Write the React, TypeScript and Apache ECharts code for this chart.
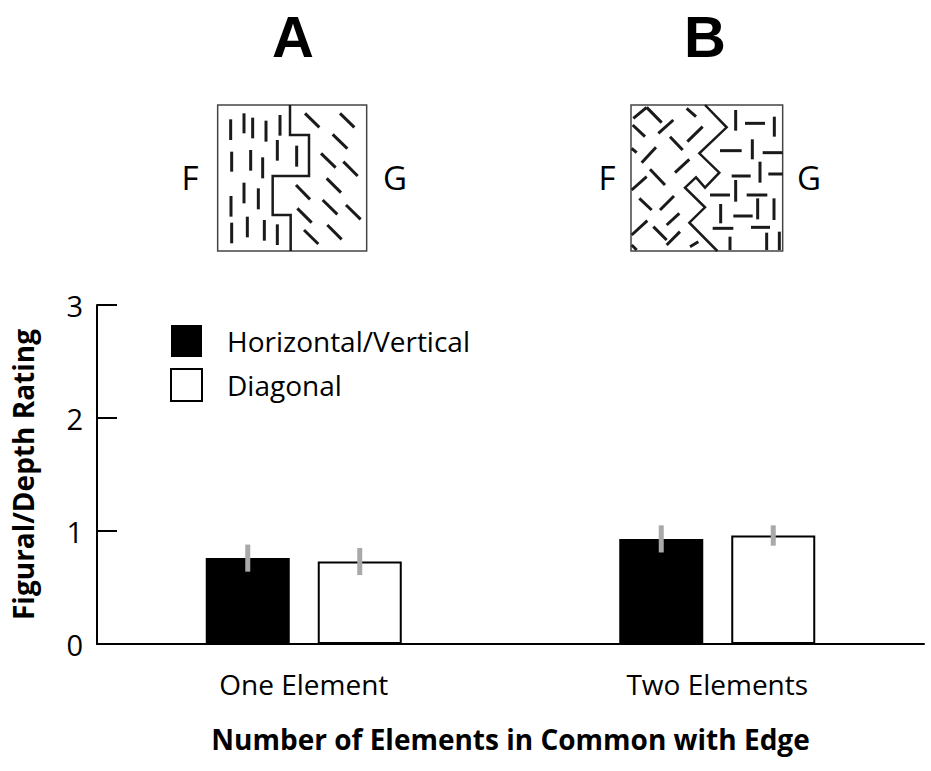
import React, { useEffect, useRef } from "react";
import * as echarts from "echarts";

// ---------- data ----------
const categories = ["One Element", "Two Elements"];
const seriesNames = ["Horizontal/Vertical", "Diagonal"];
const hvValues = [0.76, 0.93];
const hvErrors = [0.12, 0.12];
const diagValues = [0.73, 0.96];
const diagErrors = [0.12, 0.09];
const yMin = 0;
const yMax = 3;
const yInterval = 1;

// ---------- styling constants ----------
const FONT = "Open Sans";
const BAR_W = 84;
const BAR_GAP_PX = 28;

// ---------- decorative stimulus panels (zoom-unit coords, 1/3 px) ----------
type Seg = [number, number, number, number];
const panelA = {
  ox: 160,
  oy: 90,
  box: [173, 45, 620, 483],
  edge: [[390, 45], [390, 135], [447, 135], [447, 258], [338, 258], [338, 375], [392, 375], [392, 483]],
  segs: [
    [212, 88, 212, 150], [252, 70, 252, 130], [278, 83, 278, 145], [318, 92, 318, 155], [360, 75, 360, 137],
    [215, 185, 215, 245], [272, 180, 272, 242], [308, 202, 308, 265], [352, 150, 352, 212], [410, 167, 410, 230],
    [213, 318, 213, 380], [252, 278, 252, 340], [295, 295, 295, 358],
    [215, 398, 215, 460], [262, 380, 262, 442], [313, 390, 313, 452], [352, 403, 352, 465],
    [435, 70, 478, 112], [540, 70, 583, 112], [518, 133, 562, 176], [483, 190, 527, 233], [550, 215, 593, 258],
    [500, 265, 543, 308], [408, 285, 450, 328], [488, 330, 532, 373], [558, 345, 602, 388], [412, 355, 455, 398],
    [432, 420, 475, 462], [502, 405, 545, 448],
  ] as Seg[],
  F: [190, 177],
  G: [395, 177],
};
const panelB = {
  ox: 590,
  oy: 90,
  box: [123, 45, 578, 483],
  edge: [[345, 45], [410, 112], [328, 190], [388, 248], [345, 293], [318, 262], [285, 293], [345, 352], [298, 398], [382, 483]],
  segs: [
    [130, 85, 170, 52], [170, 52, 215, 98], [290, 55, 318, 80], [205, 130, 250, 90], [128, 105, 165, 140],
    [240, 140, 278, 180], [292, 155, 338, 110], [125, 175, 140, 188], [155, 218, 198, 172], [255, 248, 298, 208],
    [180, 238, 225, 285], [125, 300, 170, 260], [148, 325, 185, 360], [210, 360, 252, 318], [230, 405, 268, 370],
    [125, 435, 172, 392], [190, 410, 230, 450], [230, 465, 270, 425], [125, 465, 140, 480], [300, 470, 325, 455],
    [437, 60, 437, 122], [465, 100, 525, 100], [553, 80, 553, 140], [390, 182, 455, 182], [487, 148, 487, 208],
    [518, 188, 578, 188], [510, 215, 510, 278], [425, 258, 482, 258], [535, 252, 578, 252], [437, 270, 437, 335],
    [360, 315, 420, 315], [470, 315, 532, 315], [503, 325, 503, 388], [552, 325, 552, 390], [392, 342, 392, 400],
    [430, 378, 488, 378], [368, 415, 430, 415], [483, 412, 540, 412], [420, 440, 420, 480], [530, 428, 530, 480],
    [568, 425, 568, 480],
  ] as Seg[],
  F: [607, 177],
  G: [809, 177],
};

function panelGraphics(p: typeof panelA): any[] {
  const X = (z: number) => p.ox + z / 3;
  const Y = (z: number) => p.oy + z / 3;
  const out: any[] = [];
  out.push({
    type: "rect",
    shape: { x: X(p.box[0]), y: Y(p.box[1]), width: (p.box[2] - p.box[0]) / 3, height: (p.box[3] - p.box[1]) / 3 },
    style: { fill: "#fff", stroke: "#444", lineWidth: 1.5 },
    z: 10,
  });
  p.segs.forEach((s) => {
    out.push({
      type: "line",
      shape: { x1: X(s[0]), y1: Y(s[1]), x2: X(s[2]), y2: Y(s[3]) },
      style: { stroke: "#1a1a1a", lineWidth: 3, lineCap: "butt" },
      z: 11,
    });
  });
  out.push({
    type: "polyline",
    shape: { points: p.edge.map((pt) => [X(pt[0]), Y(pt[1])]) },
    style: { stroke: "#1a1a1a", lineWidth: 2.5, fill: null },
    z: 11,
  });
  out.push({
    type: "text",
    x: p.F[0],
    y: p.F[1],
    style: { text: "F", font: `400 33px "${FONT}"`, fill: "#000", align: "center", verticalAlign: "middle" },
    z: 11,
  });
  out.push({
    type: "text",
    x: p.G[0],
    y: p.G[1],
    style: { text: "G", font: `400 33px "${FONT}"`, fill: "#000", align: "center", verticalAlign: "middle" },
    z: 11,
  });
  return out;
}

const errOffset = (BAR_W + BAR_GAP_PX) / 2;

function errorSeries(values: number[], errors: number[], dx: number) {
  return {
    type: "custom",
    z: 5,
    silent: true,
    data: values.map((v, i) => [i, v, errors[i]]),
    renderItem: (params: any, api: any) => {
      const ci = api.value(0);
      const v = api.value(1);
      const e = api.value(2);
      const top = api.coord([ci, v + e]);
      const bot = api.coord([ci, v - e]);
      const x = top[0] + dx;
      return {
        type: "line",
        shape: { x1: x, y1: top[1], x2: x, y2: bot[1] },
        style: { stroke: "#a9a9a9", lineWidth: 5 },
      };
    },
  };
}

export default function App() {
  const ref = useRef<HTMLDivElement>(null);
  useEffect(() => {
    if (!ref.current) return;
    const chart = echarts.init(ref.current, null, { renderer: "svg" });
    const option: any = {
      animation: false,
      backgroundColor: "#fff",
      textStyle: { fontFamily: FONT },
      grid: { left: 97, right: 7, top: 305, bottom: 127, containLabel: false },
      legend: {
        orient: "vertical",
        left: 170,
        top: 325,
        padding: 0,
        itemWidth: 31,
        itemHeight: 32,
        itemGap: 11,
        icon: "rect",
        selectedMode: false,
        textStyle: { fontSize: 28, color: "#000", fontFamily: FONT, padding: [0, 0, 0, 20] },
        data: [
          { name: seriesNames[0], itemStyle: { color: "#000", borderColor: "#000", borderWidth: 0 } },
          { name: seriesNames[1], itemStyle: { color: "#fff", borderColor: "#000", borderWidth: 2 } },
        ],
      },
      xAxis: {
        type: "category",
        data: categories,
        axisLine: { lineStyle: { color: "#000", width: 2 } },
        axisTick: { inside: true, length: 7, lineStyle: { color: "#000", width: 2 } },
        axisLabel: { fontSize: 28, color: "#000", margin: 26, fontFamily: FONT },
        name: "Number of Elements in Common with Edge",
        nameLocation: "middle",
        nameGap: 81,
        nameTextStyle: { fontSize: 28, fontWeight: "bold", color: "#000", fontFamily: FONT },
      },
      yAxis: {
        type: "value",
        min: yMin,
        max: yMax,
        interval: yInterval,
        splitLine: { show: false },
        axisLine: { show: true, lineStyle: { color: "#000", width: 2 } },
        axisTick: { show: true, inside: true, length: 20, lineStyle: { color: "#000", width: 2 } },
        axisLabel: { fontSize: 29, color: "#000", margin: 14, fontFamily: FONT },
        name: "Figural/Depth Rating",
        nameLocation: "middle",
        nameRotate: 90,
        nameGap: 60,
        nameTextStyle: { fontSize: 28, fontWeight: "bold", color: "#000", fontFamily: FONT },
      },
      series: [
        {
          name: seriesNames[0],
          type: "bar",
          data: hvValues,
          barWidth: BAR_W,
          barGap: `${(BAR_GAP_PX / BAR_W) * 100}%`,
          itemStyle: { color: "#000", borderColor: "#000", borderWidth: 0 },
        },
        {
          name: seriesNames[1],
          type: "bar",
          data: diagValues,
          barWidth: BAR_W,
          barGap: `${(BAR_GAP_PX / BAR_W) * 100}%`,
          itemStyle: { color: "#fff", borderColor: "#000", borderWidth: 2 },
        },
        errorSeries(hvValues, hvErrors, -errOffset),
        errorSeries(diagValues, diagErrors, errOffset),
      ],
      graphic: [
        {
          type: "text",
          x: 293,
          y: 36,
          style: { text: "A", font: `700 58px "Liberation Sans"`, fill: "#000", align: "center", verticalAlign: "middle" },
        },
        {
          type: "text",
          x: 705,
          y: 36,
          style: { text: "B", font: `700 58px "Liberation Sans"`, fill: "#000", align: "center", verticalAlign: "middle" },
        },
        ...panelGraphics(panelA),
        ...panelGraphics(panelB as any),
      ],
    };
    chart.setOption(option);
    return () => chart.dispose();
  }, []);
  return (
    <div
      ref={ref}
      style={{ position: "fixed", left: 0, top: 0, width: 931, height: 771, background: "#fff" }}
    />
  );
}
